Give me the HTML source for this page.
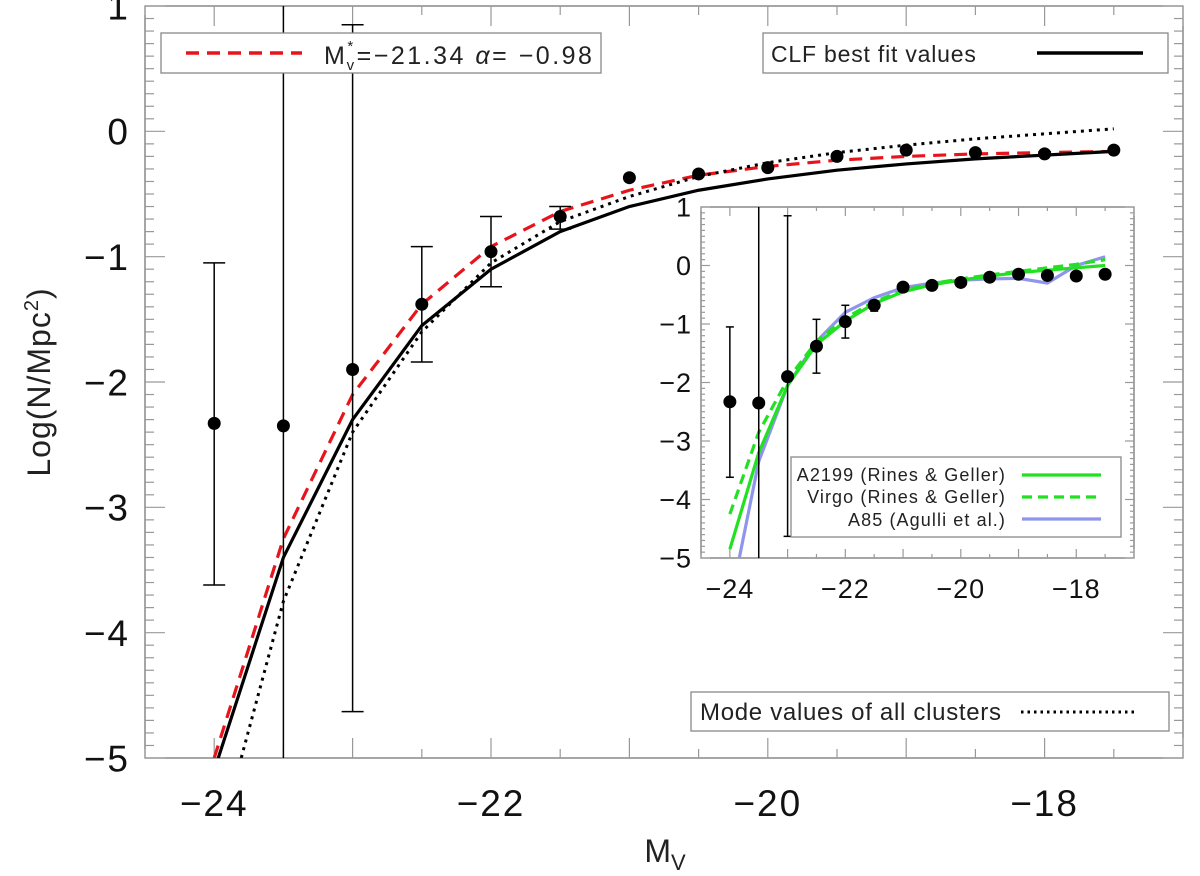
<!DOCTYPE html>
<html><head><meta charset="utf-8"><style>
html,body{margin:0;padding:0;background:#fff;}
svg{display:block;font-family:"Liberation Sans",sans-serif;}
</style></head><body>
<svg id="c" width="1200" height="876" viewBox="0 0 1200 876"></svg>
<script>
const mags=[-24,-23.5,-23,-22.5,-22,-21.5,-21,-20.5,-20,-19.5,-19,-18.5,-18,-17.5];
const obs=[-2.33,-2.35,-1.9,-1.38,-0.96,-0.68,-0.37,-0.34,-0.29,-0.2,-0.15,-0.17,-0.18,-0.15];
const errLo=[-3.62,-6,-4.63,-1.84,-1.24,-0.78,null,null,null,null,null,null,null,null];
const errHi=[-1.05,2,0.85,-0.92,-0.68,-0.6,null,null,null,null,null,null,null,null];
const clf=[-5.1,-3.4,-2.3,-1.55,-1.1,-0.8,-0.6,-0.47,-0.38,-0.31,-0.26,-0.22,-0.19,-0.16];
const schechter=[-5.0,-3.25,-2.1,-1.38,-0.92,-0.64,-0.47,-0.35,-0.28,-0.23,-0.2,-0.18,-0.17,-0.16];
const modeVals=[-5.8,-3.75,-2.4,-1.6,-1.05,-0.72,-0.52,-0.36,-0.25,-0.17,-0.11,-0.06,-0.02,0.02];
const a2199=[-4.85,-3.2,-2.05,-1.35,-0.95,-0.65,-0.45,-0.33,-0.25,-0.18,-0.12,-0.08,-0.04,0.0];
const virgo=[-4.25,-2.85,-1.95,-1.3,-0.9,-0.62,-0.43,-0.31,-0.23,-0.16,-0.1,-0.04,0.02,0.1];
const a85=[-5.8,-3.35,-2.05,-1.3,-0.8,-0.55,-0.38,-0.3,-0.25,-0.23,-0.22,-0.3,0.0,0.15];
const xTicks=[-24,-22,-20,-18];
const yTicks=[1,0,-1,-2,-3,-4,-5];

const NS="http://www.w3.org/2000/svg";
const svg=document.getElementById('c');
function mk(tag,attrs,parent){const e=document.createElementNS(NS,tag);for(const k in attrs)e.setAttribute(k,attrs[k]);(parent||svg).appendChild(e);return e;}

function panel(P,name){
  const g=mk('g',{});
  
  
  const X=v=>P.x0+(v-P.xmin)/(P.xmax-P.xmin)*(P.x1-P.x0);
  const Y=v=>P.y0+(P.ymax-v)/(P.ymax-P.ymin)*(P.y1-P.y0);
  const cid='clip'+name;
  const cp=mk('clipPath',{id:cid},g);mk('rect',{x:P.x0,y:P.y0,width:P.x1-P.x0,height:P.y1-P.y0},cp);
  const fr=mk('rect',{x:P.x0,y:P.y0,width:P.x1-P.x0,height:P.y1-P.y0,fill:'#fff',stroke:'#777','stroke-width':1.3},g);
  
  
  for(let v=P.ymin;v<=P.ymax+1e-6;v+=0.1){
    const vv=Math.round(v*10)/10;const maj=Math.abs(vv-Math.round(vv))<1e-6;const L=maj?P.maj:P.min;
    mk('line',{x1:P.x0,x2:P.x0+L,y1:Y(vv),y2:Y(vv),stroke:'#999','stroke-width':1.2},g);
    mk('line',{x1:P.x1,x2:P.x1-L,y1:Y(vv),y2:Y(vv),stroke:'#999','stroke-width':1.2},g);
  }
  for(let v=-24.5;v<=P.xmax+1e-6;v+=0.5){
    const maj=Math.abs(v-Math.round(v))<1e-6;const L=maj?P.maj:P.min;
    mk('line',{x1:X(v),x2:X(v),y1:P.y1,y2:P.y1-L,stroke:'#999','stroke-width':1.2},g);
    mk('line',{x1:X(v),x2:X(v),y1:P.y0,y2:P.y0+L,stroke:'#999','stroke-width':1.2},g);
  }
  xTicks.forEach(t=>{const tx=mk('text',{x:X(t),y:P.y1+P.xoff,'font-size':P.fs,'text-anchor':'middle',fill:'#111','letter-spacing':P.ls},g);tx.textContent='\u2212'+Math.abs(t);
    
    });
  yTicks.forEach(t=>{const tx=mk('text',{x:P.x0-P.yoff,y:Y(t)+P.fs*0.36,'font-size':P.fs,'text-anchor':'end',fill:'#111','letter-spacing':P.ls},g);tx.textContent=(t<0?'\u2212':'')+Math.abs(t);
    
    });
  const cg=mk('g',{'clip-path':'url(#'+cid+')'},g);
  const line=(arr,st,nm)=>{const p=mk('polyline',Object.assign({points:mags.map((m,i)=>X(m)+','+Y(arr[i])).join(' '),fill:'none'},st),cg);
    
    };
  P.lines.forEach(l=>line(l[0],l[1],l[2]));
  mags.forEach((m,i)=>{
    if(errLo[i]!==null){
      const e=mk('line',{x1:X(m),x2:X(m),y1:Y(errLo[i]),y2:Y(errHi[i]),stroke:'#000','stroke-width':1.5},cg);
      
      
      [errLo[i],errHi[i]].forEach(v=>mk('line',{x1:X(m)-P.cap,x2:X(m)+P.cap,y1:Y(v),y2:Y(v),stroke:'#000','stroke-width':1.5},cg));
    }
    const c=mk('circle',{cx:X(m),cy:Y(obs[i]),r:P.r,fill:'#000'},cg);
    
    
  });
  return {X,Y,g};
}

panel({x0:145,x1:1183,y0:6,y1:758,xmin:-24.5,xmax:-17,ymin:-5,ymax:1,maj:20,min:9,fs:37,xoff:58,yoff:15,ls:2,cap:11,r:6.5,
  lines:[[schechter,{stroke:'#e8141c','stroke-width':3.2,'stroke-dasharray':'13 8'},'schechter-fit-line'],
         [modeVals,{stroke:'#000','stroke-width':3,'stroke-dasharray':'3 5'},'mode-values-line'],
         [clf,{stroke:'#000','stroke-width':3.2},'clf-best-fit-line']]},'main-plot');

panel({x0:701,x1:1134,y0:207,y1:558,xmin:-24.5,xmax:-17,ymin:-5,ymax:1,maj:9,min:4,fs:27,xoff:40,yoff:9,ls:1,cap:4,r:6.5,
  lines:[[a85,{stroke:'#8f95ec','stroke-width':3.2},'a85-line'],
         [virgo,{stroke:'#22e022','stroke-width':3.2,'stroke-dasharray':'10 6'},'virgo-line'],
         [a2199,{stroke:'#22e022','stroke-width':3.2},'a2199-line']]},'inset-plot');

function legend(x,y,w,h,name){const r=mk('rect',{x,y,width:w,height:h,fill:'#fff',stroke:'#888','stroke-width':1.3});
  
  }
function txt(x,y,s,fs,anchor,name,ls){const t=mk('text',{x,y,'font-size':fs,'text-anchor':anchor||'start',fill:'#222','letter-spacing':ls||0});t.innerHTML=s;
  
  return t;}

legend(161,33,440,40,'schechter-legend');
mk('line',{x1:186,x2:302,y1:53,y2:53,stroke:'#e8141c','stroke-width':3.5,'stroke-dasharray':'13 8'});
txt(324,64,'M<tspan font-size="15" dy="-13">*</tspan><tspan font-size="15" dx="-9" dy="19">v</tspan><tspan dy="-6">=\u221221.34  <tspan font-style="italic">α</tspan>= \u22120.98</tspan>',25,'start','schechter-legend-label',2.5);

legend(763,33,405,40,'clf-legend');
txt(771,62,'CLF best fit values',23,'start','clf-legend-label',0.8);
mk('line',{x1:1037,x2:1143,y1:53,y2:53,stroke:'#000','stroke-width':3.5});

legend(691,692,478,39,'mode-legend');
txt(700,720,'Mode values of all clusters',24,'start','mode-legend-label',0.7);
mk('line',{x1:1021,x2:1138,y1:712,y2:712,stroke:'#000','stroke-width':3,'stroke-dasharray':'2.5 4'});

legend(791,457,330,80,'inset-legend');
txt(1006,481,'A2199 (Rines &amp; Geller)',18,'end','a2199-legend-label',1.1);
txt(1006,503,'Virgo (Rines &amp; Geller)',18,'end','virgo-legend-label',1.1);
txt(1006,526,'A85 (Agulli et al.)',18,'end','a85-legend-label',1.1);
mk('line',{x1:1022,x2:1101,y1:475,y2:475,stroke:'#22e022','stroke-width':3.2});
mk('line',{x1:1022,x2:1101,y1:497,y2:497,stroke:'#22e022','stroke-width':3.2,'stroke-dasharray':'10 6'});
mk('line',{x1:1022,x2:1101,y1:519,y2:519,stroke:'#8f95ec','stroke-width':3.2});

txt(665,862,'M<tspan font-size="22" dy="8">V</tspan>',32,'middle','x-axis-title');
const yt=txt(0,0,'Log(N/Mpc<tspan font-size="20" dy="-12">2</tspan><tspan dy="12">)</tspan>',32,'middle','y-axis-title',1);
yt.setAttribute('transform','translate(50,382) rotate(-90)');
</script>
</body></html>
